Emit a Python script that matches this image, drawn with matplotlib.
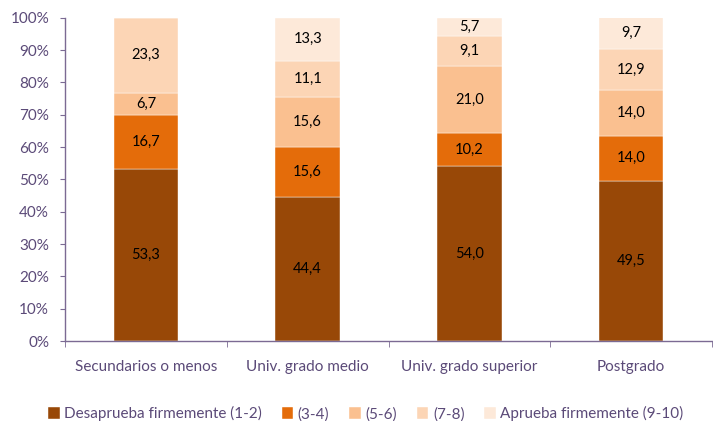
import matplotlib.pyplot as plt
import numpy as np

categories = ["Secundarios o menos", "Univ. grado medio", "Univ. grado superior", "Postgrado"]
series_names = ["Desaprueba firmemente (1-2)", "(3-4)", "(5-6)", "(7-8)", "Aprueba firmemente (9-10)"]
desaprueba = [53.3, 44.4, 54.0, 49.5]
s34 = [16.7, 15.6, 10.2, 14.0]
s56 = [6.7, 15.6, 21.0, 14.0]
s78 = [23.3, 11.1, 9.1, 12.9]
aprueba = [0.0, 13.3, 5.7, 9.7]
colors = ["#984807", "#e46c0a", "#fac090", "#fcd5b5", "#fde9d9"]

txt = "#5b4a78"
axcol = "#7b6a93"
plt.rcParams['font.family'] = ['Lato', 'DejaVu Sans']

fig = plt.figure(figsize=(7.13, 4.21), dpi=100)
ax = fig.add_axes([0.0912, 0.19, 0.9074, 0.768])

x = np.arange(len(categories))
bottom = np.zeros(len(categories))
for vals, name, col in zip([desaprueba, s34, s56, s78, aprueba], series_names, colors):
    vals = np.array(vals)
    ax.bar(x, vals, 0.4, bottom=bottom, color=col, label=name,
           edgecolor="white", linewidth=0.3)
    for xi, b, v in zip(x, bottom, vals):
        if v > 0:
            ax.text(xi, b + v / 2, f"{v:.1f}".replace(".", ","), ha="center", va="center",
                    fontsize=10.5, color="black")
    bottom += vals

ax.set_xlim(-0.5, len(categories) - 0.5)
ax.set_ylim(0, 100)
ax.set_yticks(np.arange(0, 101, 10))
ax.set_yticklabels([f"{v}%" for v in range(0, 101, 10)])
ax.set_xticks(x)
ax.set_xticklabels(categories)
ax.set_xticks(np.arange(-0.5, len(categories), 1), minor=True)
ax.tick_params(axis="x", which="major", length=0, pad=14, labelsize=11, labelcolor=txt)
ax.tick_params(axis="x", which="minor", length=4, color=axcol, direction="out")
ax.tick_params(axis="y", length=3.5, pad=8, color=axcol, labelsize=11, labelcolor=txt)
for side in ["top", "right"]:
    ax.spines[side].set_visible(False)
for side in ["left", "bottom"]:
    ax.spines[side].set_color(axcol)
    ax.spines[side].set_linewidth(1.0)

leg = ax.legend(loc="center", bbox_to_anchor=(0.465, -0.225), ncol=5, frameon=False,
                handlelength=0.75, handleheight=0.75, handletextpad=0.3,
                columnspacing=1.3, fontsize=11)
for t in leg.get_texts():
    t.set_color(txt)

fig.savefig("out.png", dpi=100)
